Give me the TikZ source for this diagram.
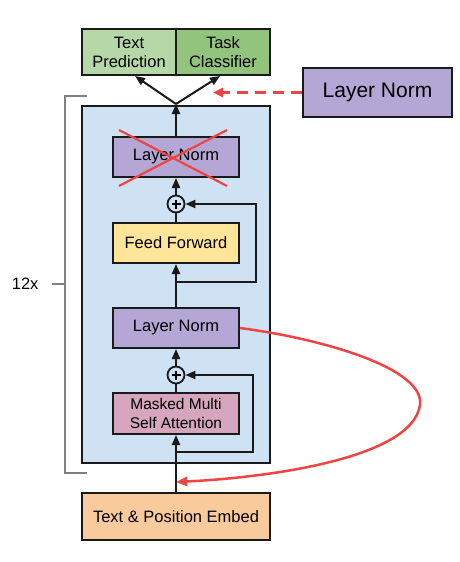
\documentclass[tikz,border=0pt]{standalone}
\usepackage{fontspec}
\setmainfont{Liberation Sans}
\usetikzlibrary{arrows.meta}
\definecolor{lgreen}{HTML}{B6D7A8}
\definecolor{dgreen}{HTML}{93C47D}
\definecolor{lblue}{HTML}{CFE2F3}
\definecolor{lpurple}{HTML}{B4A7D6}
\definecolor{lyellow}{HTML}{FFE599}
\definecolor{lpink}{HTML}{D5A6BD}
\definecolor{lorange}{HTML}{F9CB9C}
\definecolor{myred}{HTML}{EE4444}
\definecolor{boxline}{HTML}{1A1A1A}
\begin{document}
\begin{tikzpicture}[x=1pt,y=-1pt,
  blk/.style={draw=boxline,line width=2pt,inner sep=0pt,align=center,font=\fontsize{16.5}{19}\selectfont},
  arr/.style={line width=2pt,draw=boxline,-{Triangle[length=10pt,width=8pt]}},
  ln/.style={line width=2pt,draw=boxline},
  plus/.style={draw=boxline,circle,line width=1.8pt,minimum size=17pt,inner sep=0pt},
  redline/.style={draw=myred,line width=2.5pt},
  bracket/.style={draw=gray,line width=1.5pt}]
\useasboundingbox (0,0) rectangle (460,562);
% outer blue box
\node[blk,fill=lblue,minimum width=188pt,minimum height=357pt] (blue) at (176,284.5) {};
% top outputs
\node[blk,fill=lgreen,minimum width=94pt,minimum height=46pt] (tp) at (129,52) {Text\\Prediction};
\node[blk,fill=dgreen,minimum width=94pt,minimum height=46pt] (tc) at (223,52) {Task\\Classifier};
% right layer norm
\node[blk,fill=lpurple,minimum width=149pt,minimum height=49pt,font=\fontsize{21}{24}\selectfont] (lnr) at (377.5,92.5) {Layer Norm};
% inner blocks
\node[blk,fill=lpurple,minimum width=126pt,minimum height=40pt] (ln1) at (176,157) {Layer Norm};
\node[plus] (p1) at (176,204) {};
\node[blk,fill=lyellow,minimum width=126pt,minimum height=40pt] (ff) at (176,243) {Feed Forward};
\node[blk,fill=lpurple,minimum width=126pt,minimum height=40pt] (ln2) at (176,328) {Layer Norm};
\node[plus] (p2) at (176,375) {};
\node[blk,fill=lpink,minimum width=126pt,minimum height=41pt,font=\fontsize{15.5}{18.5}\selectfont] (mm) at (176,413.5) {Masked Multi\\Self Attention};
\node[blk,fill=lorange,minimum width=188pt,minimum height=47pt] (emb) at (176,516.5) {Text \& Position Embed};
% plus signs
\draw[line width=1.6pt] ([xshift=-4.5pt]p1.center) -- ([xshift=4.5pt]p1.center) ([yshift=-4.5pt]p1.center) -- ([yshift=4.5pt]p1.center);
\draw[line width=1.6pt] ([xshift=-4.5pt]p2.center) -- ([xshift=4.5pt]p2.center) ([yshift=-4.5pt]p2.center) -- ([yshift=4.5pt]p2.center);
% coordinates
\coordinate (fork) at (176,104);
\coordinate (s1) at (176,282);
\coordinate (s2) at (176,452);
\coordinate (redend) at (176,482);
\coordinate (dashend) at (213,92.5);
% main flow
\draw[arr] (emb.north) -- (mm.south);
\draw[ln] (mm.north) -- (p2.south);
\draw[arr] (p2.north) -- (ln2.south);
\draw[arr] (ln2.north) -- (ff.south);
\draw[ln] (ff.north) -- (p1.south);
\draw[arr] (p1.north) -- (ln1.south);
\draw[arr] (ln1.north) -- (fork);
\draw[arr] (fork) -- (135,76);
\draw[arr] (fork) -- (220,76);
% skip connections
\draw[arr] (s1) -- (256,282) -- (256,204) -- (p1.east);
\draw[arr] (s2) -- (253,452) -- (253,375) -- (p2.east);
% red cross
\draw[redline,line width=2.2pt] (119,130) -- (227,186);
\draw[redline,line width=2.2pt] (119,186) -- (227,130);
% red dashed arrow
\draw[redline,dashed,dash pattern=on 11pt off 7pt,-{Triangle[length=10pt,width=9pt]}] (lnr.west) -- (dashend);
% red curve
\draw[redline,-{Triangle[length=11pt,width=9pt]}] (ln2.east) .. controls (330,340) and (425,370) .. (420,405)
  .. controls (412,460) and (260,478) .. (redend);
% bracket
\draw[bracket] (87,96) -- (65,96) -- (65,473) -- (87,473);
\draw[bracket] (52,284) -- (65,284);
\node[font=\fontsize{16.5}{19}\selectfont,anchor=east] (rep) at (42,284) {12x};
\end{tikzpicture}
\end{document}
